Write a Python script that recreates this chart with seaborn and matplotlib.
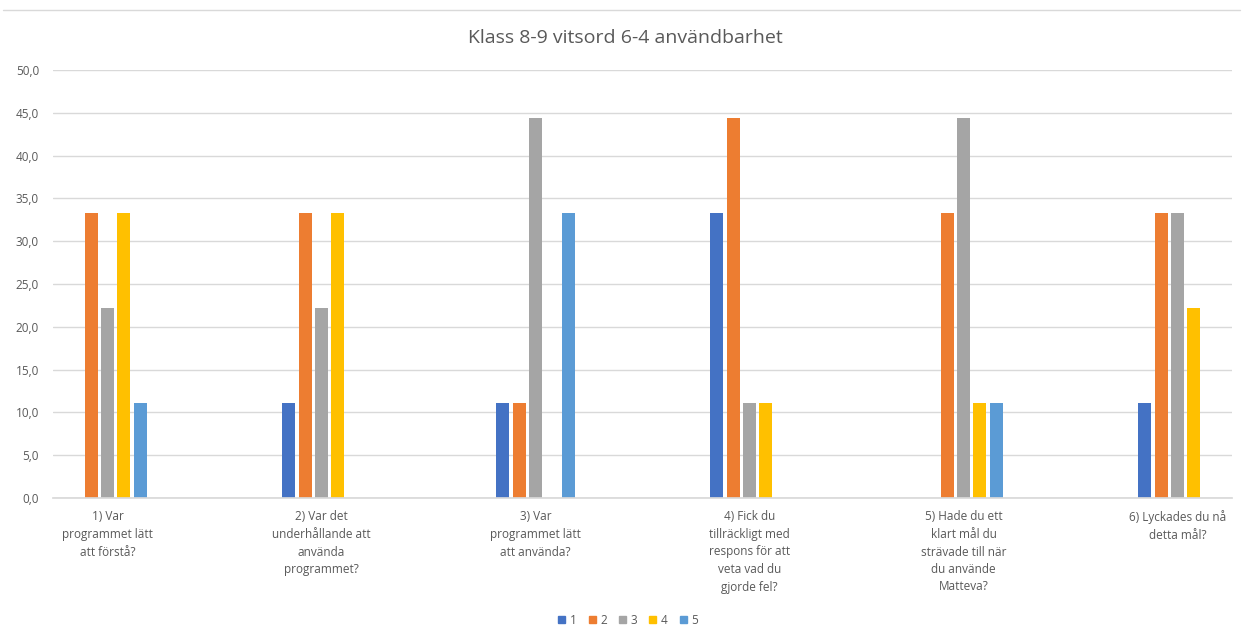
import matplotlib
matplotlib.use("Agg")
import matplotlib.pyplot as plt
from matplotlib.ticker import FuncFormatter, MultipleLocator
from matplotlib.lines import Line2D
import seaborn as sns
import pandas as pd

questions = [
    "1) Var\nprogrammet lätt\natt förstå?",
    "2) Var det\nunderhållande att\nanvända\nprogrammet?",
    "3) Var\nprogrammet lätt\natt använda?",
    "4) Fick du\ntillräckligt med\nrespons för att\nveta vad du\ngjorde fel?",
    "5) Hade du ett\nklart mål du\nsträvade till när\ndu använde\nMatteva?",
    "6) Lyckades du nå\ndetta mål?",
]
answers = ["1", "2", "3", "4", "5"]

# Share of answers (percent) per question, one list per answer option
ans_1 = [0.0, 11.1, 11.1, 33.3, 0.0, 11.1]
ans_2 = [33.3, 33.3, 11.1, 44.4, 33.3, 33.3]
ans_3 = [22.2, 22.2, 44.4, 11.1, 44.4, 33.3]
ans_4 = [33.3, 33.3, 0.0, 11.1, 11.1, 22.2]
ans_5 = [11.1, 0.0, 33.3, 0.0, 11.1, 0.0]

colors = ["#4472C4", "#ED7D31", "#A5A5A5", "#FFC000", "#5B9BD5"]
text_color = "#595959"

rows = []
for ans, vals in zip(answers, [ans_1, ans_2, ans_3, ans_4, ans_5]):
    for q, v in zip(questions, vals):
        rows.append({"Fråga": q, "Svar": ans, "Andel": v})
df = pd.DataFrame(rows)

sns.set_theme(style="white")
plt.rcParams["font.family"] = ["Open Sans", "DejaVu Sans"]

fig = plt.figure(figsize=(12.44, 6.29), dpi=100)
ax = fig.add_axes([53 / 1244, 1 - 498 / 629, (1232 - 53) / 1244, (498 - 70) / 629])

sns.barplot(data=df, x="Fråga", y="Andel", hue="Svar", order=questions,
            hue_order=answers, palette=colors, saturation=1, width=0.38, gap=0.2,
            linewidth=0, legend=False, ax=ax)

ax.set_ylim(0, 50)
ax.set_xlim(-0.2547, 5.2547)
ax.yaxis.set_major_locator(MultipleLocator(5))
ax.yaxis.set_major_formatter(FuncFormatter(lambda v, _: f"{v:.1f}".replace(".", ",")))
ax.grid(axis="y", color="#D9D9D9", linewidth=1)
ax.set_axisbelow(True)
for s in ["top", "right", "left"]:
    ax.spines[s].set_visible(False)
ax.spines["bottom"].set_color("#D9D9D9")
ax.set_xlabel("")
ax.set_ylabel("")
ax.tick_params(axis="both", length=0, colors=text_color, labelsize=8.5)
ax.tick_params(axis="x", pad=9)
ax.tick_params(axis="y", pad=10)
for lab in ax.get_xticklabels():
    lab.set_linespacing(1.45)

fig.text(0.503, 1 - 38 / 629, "Klass 8-9 vitsord 6-4 användbarhet",
         ha="center", va="center", fontsize=14, color=text_color)

# thin frame line across the top of the chart area
fig.add_artist(Line2D([3 / 1244, 1240 / 1244], [1 - 10 / 629, 1 - 10 / 629],
                      color="#D9D9D9", linewidth=1))

handles = [plt.Rectangle((0, 0), 1, 1, color=c) for c in colors]
fig.legend(handles, answers, loc="center", bbox_to_anchor=(0.505, 1 - 620 / 629),
           ncol=5, frameon=False, fontsize=8.5, handlelength=0.6, handleheight=0.6,
           handletextpad=0.4, columnspacing=1.0, labelcolor=text_color)

fig.savefig("out.png", dpi=100, facecolor="white")
